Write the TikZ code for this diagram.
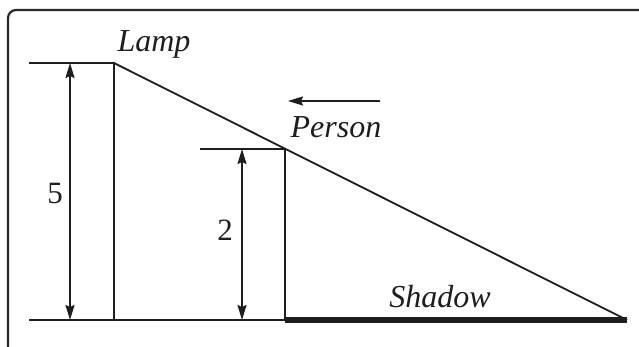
\documentclass[tikz,border=0pt]{standalone}
\usepackage{fontspec}
\setmainfont{Liberation Serif}
\usetikzlibrary{arrows.meta,positioning}
\definecolor{ink}{HTML}{1E1E1E}
\definecolor{framegray}{HTML}{2A2A2A}

\begin{document}
\begin{tikzpicture}[x=1pt,y=1pt,
    line width=1.8pt,ink,
    lbl/.style={font=\fontsize{32}{36}\selectfont\itshape,inner sep=0pt,anchor=base},
    num/.style={font=\fontsize{31}{36}\selectfont,inner sep=0pt,anchor=base},
    dim/.style={{Stealth[length=15pt,width=9pt,inset=2pt]}-{Stealth[length=15pt,width=9pt,inset=2pt]}}]
    \useasboundingbox (0,0) rectangle (639,347);
    \clip (0,0) rectangle (639,347);
    \draw[framegray,line width=2.2pt,rounded corners=8pt] (8,-30) rectangle (680,337);
    % ground, lamp and person
    \coordinate (lampbase) at (114,27);
    \coordinate (lamptop) at (114,284);
    \coordinate (persbase) at (285,27);
    \coordinate (perstop) at (285,198);
    \coordinate (tip) at (627,27);
    \coordinate (gl) at (29,27);
    \coordinate (lampref) at (29,284);
    \coordinate (persref) at (200,198);
    \draw (gl) -- (persbase);
    \draw[line width=6pt] (persbase) -- (tip);
    \draw (lampref) -- (lamptop) -- (lampbase);
    \draw (persref) -- (perstop) -- (persbase);
    \draw (lamptop) -- (tip);
    % heights
    \coordinate (d5a) at (70,284);
    \coordinate (d5b) at (70,27);
    \coordinate (d2a) at (242,198);
    \coordinate (d2b) at (242,27);
    \draw[dim] (d5a) -- (d5b);
    \draw[dim] (d2a) -- (d2b);
    \node[num] (five) at (55,143) {5};
    \node[num] (two) at (225,106) {2};
    % labels
    \node[lbl] (lamp) at (154,295) {Lamp};
    \node[lbl] (person) at (336,209) {Person};
    \node[lbl] (shadow) at (440,39) {Shadow};
    \coordinate (walkfrom) at (380,246);
    \coordinate (walkto) at (288,246);
    \draw[-{Stealth[length=15pt,width=9pt,inset=2pt]}] (walkfrom) -- (walkto);
\end{tikzpicture}
\end{document}
